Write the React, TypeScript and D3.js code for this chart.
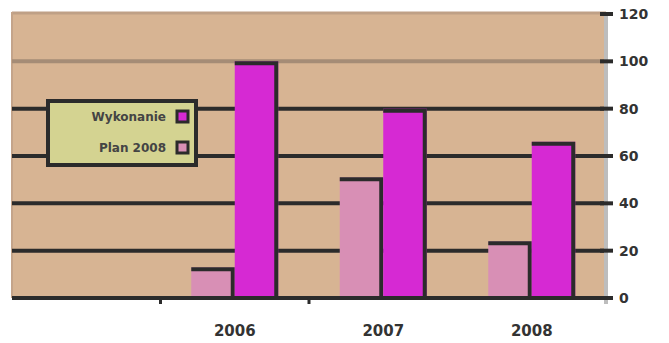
import React from 'react';
import * as d3 from 'd3';

const categories = ['', '2006', '2007', '2008'];
const seriesNames = ['Plan 2008', 'Wykonanie'];
const planValues = [0, 13, 51, 24];
const actualValues = [0, 100, 80, 66];
const yTicks = [0, 20, 40, 60, 80, 100, 120];

const W = 669;
const H = 343;
const left = 12;
const right = 606;
const top = 14;
const bottom = 298;

const BG = '#d7b493';
const DARK = '#2b2b2b';
const MAGENTA = '#d629d3';
const PINK = '#d88fb5';
const seriesColors = [PINK, MAGENTA];

// bar with a dark edge on top and right only, like the blurry original
const Bar = ({ x0, w, yTop, fill }: { x0: number; w: number; yTop: number; fill: string }) => (
  <g>
    <rect x={x0} y={yTop} width={w} height={bottom - yTop} fill={fill} />
    <path d={`M${x0},${yTop + 2} H${x0 + w - 2} V${bottom}`} fill="none" stroke={DARK} strokeWidth={4} />
  </g>
);

const App = () => {
  const x = d3.scaleBand().domain(categories).range([left, right]).padding(0);
  const inner = d3.scaleBand()
    .domain(['plan', 'actual'])
    .range([0, x.bandwidth()])
    .paddingInner(0)
    .paddingOuter(0.707);
  const y = d3.scaleLinear().domain([0, 120]).range([bottom, top]);

  const rows = categories.map((c, i) => ({ c, plan: planValues[i], actual: actualValues[i] }));
  const boundaries = categories.slice(1, -1).map(c => x(c) as number);

  return (
    <svg width={W} height={H} style={{ position: 'absolute', left: 0, top: 0, background: '#fff' }}
      fontFamily="DejaVu Sans, sans-serif">
      <rect x={left} y={12} width={right - left} height={bottom - 12} fill={BG} />
      <line x1={left} x2={right} y1={13} y2={13} stroke="#bfa086" strokeWidth={3} />
      <line x1={left} x2={left} y1={12} y2={bottom} stroke="#c4a48a" strokeWidth={2} />

      {yTicks.slice(1, -1).map(t => (
        <line key={t} x1={left} x2={right} y1={y(t)} y2={y(t)}
          stroke={t === 100 ? '#a58c76' : DARK} strokeWidth={4} />
      ))}

      {rows.map(r => {
        const gx = x(r.c) as number;
        return (
          <g key={r.c}>
            {r.plan > 0 && (
              <Bar x0={gx + (inner('plan') as number)} w={inner.bandwidth()} yTop={y(r.plan)} fill={PINK} />
            )}
            {r.actual > 0 && (
              <Bar x0={gx + (inner('actual') as number)} w={inner.bandwidth()} yTop={y(r.actual)} fill={MAGENTA} />
            )}
          </g>
        );
      })}

      <line x1={left} x2={right} y1={bottom} y2={bottom} stroke={DARK} strokeWidth={4} />
      {boundaries.map((b, i) => (
        <line key={i} x1={b} x2={b} y1={bottom} y2={bottom + 6} stroke={DARK} strokeWidth={3} />
      ))}

      <line x1={right} x2={right} y1={12} y2={bottom + 6} stroke="#bdbdbd" strokeWidth={4} />
      {yTicks.map(t => (
        <g key={t}>
          <line x1={600} x2={613} y1={y(t)} y2={y(t)} stroke={DARK} strokeWidth={4} />
          <text x={619} y={y(t)} dy="0.35em" fontSize={14} fontWeight="bold" fill="#333">{t}</text>
        </g>
      ))}

      {rows.map(r => (
        <text key={r.c} x={(x(r.c) ?? 0) + x.bandwidth() / 2} y={336} textAnchor="middle"
          fontSize={15} fontWeight="bold" fill="#333">{r.c}</text>
      ))}

      <g transform="translate(48,101)">
        <rect x={0} y={0} width={148} height={64} fill="#d4d391" stroke={DARK} strokeWidth={4} />
        {[seriesNames[1], seriesNames[0]].map((n, i) => (
          <g key={n} transform={`translate(0,${16 + i * 31})`}>
            <text x={118} y={0} dy="0.35em" textAnchor="end" fontSize={12} fontWeight="bold" fill="#444">{n}</text>
            <rect x={129} y={-6} width={11} height={11} fill={seriesColors[1 - i]} stroke={DARK} strokeWidth={3} />
          </g>
        ))}
      </g>
    </svg>
  );
};

export default App;
